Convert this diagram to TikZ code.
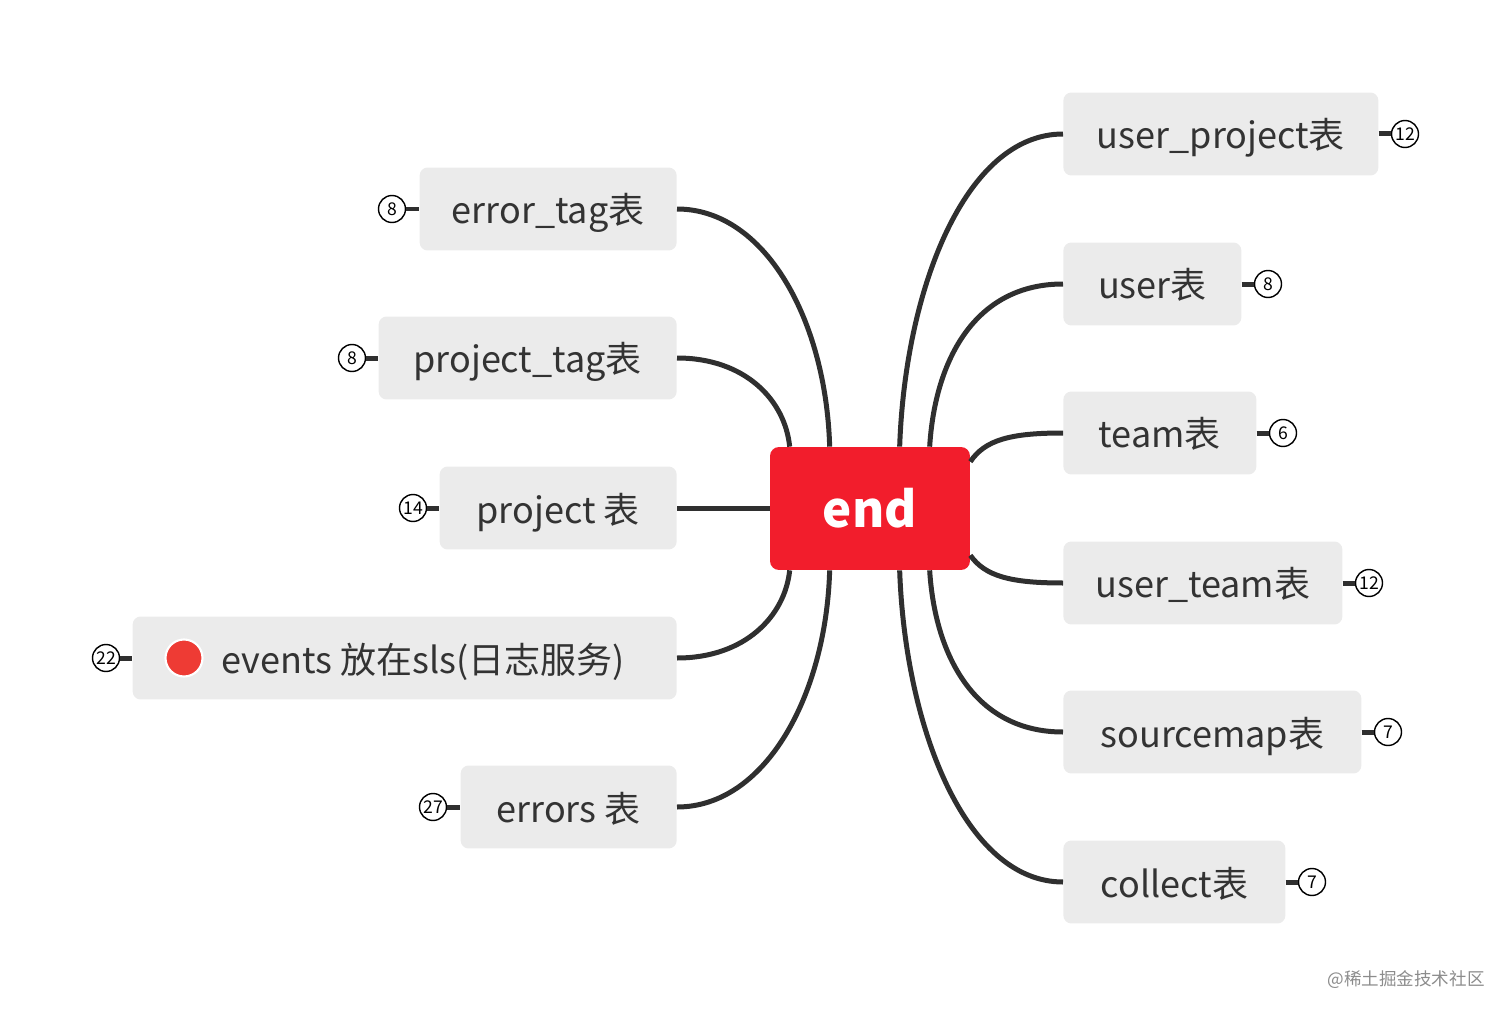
\documentclass[tikz,border=0pt]{standalone}
\usepackage{fontspec}
\setmainfont{Noto Sans CJK SC}
\usetikzlibrary{calc}
\definecolor{nodefill}{HTML}{EBEBEB}
\definecolor{textc}{HTML}{333333}
\definecolor{linec}{HTML}{2F2F2F}
\definecolor{endred}{HTML}{F21D2C}
\definecolor{dotred}{HTML}{EE3B34}
\begin{document}
\begin{tikzpicture}[x=0.02cm,y=-0.02cm,
  topic/.style={fill=nodefill, rounded corners=0.16cm, inner sep=0pt, minimum height=1.66cm,
    text height=0.68cm, text depth=0.08cm,
    text=textc, font=\fontsize{20.5pt}{24pt}\selectfont},
  central/.style={fill=endred, rounded corners=0.18cm, inner sep=0pt, minimum width=4cm, minimum height=2.46cm,
    text=white, font=\fontsize{28pt}{32pt}\selectfont\bfseries},
  conn/.style={draw=linec, line width=0.1cm},
  stub/.style={draw=linec, line width=0.1cm},
  badge/.style={circle, draw=black, line width=0.8pt, fill=white, minimum size=0.54cm, inner sep=0pt,
    text=black, font=\fontsize{10pt}{11pt}\selectfont},
]
\useasboundingbox (0,0) rectangle (1512,1017);

% central node
\node[central] (c) at (870,508.5) {end};

% left topics
\node[topic, minimum width=257*0.02cm, anchor=east] (errtag) at (677,209) {error\_tag表};
\node[topic, minimum width=298*0.02cm, anchor=east] (projtag) at (677,358) {project\_tag表};
\node[topic, minimum width=237*0.02cm, anchor=east] (proj) at (677,508) {project 表};
\node[topic, minimum width=544*0.02cm, anchor=east] (events) at (677,658) {};
\node[topic, minimum width=216*0.02cm, anchor=east] (errors) at (677,807) {errors 表};

\node[circle, fill=dotred, draw=white, line width=1.2pt, minimum size=0.74cm, inner sep=0pt] (dot) at (184,658) {};
\node[anchor=west, inner sep=0pt, text height=0.68cm, text depth=0.08cm, text=textc, font=\fontsize{20.5pt}{24pt}\selectfont] (evtext) at (221,658) {events 放在sls(日志服务)};

% right topics
\node[topic, minimum width=315*0.02cm, anchor=west] (uproj) at (1063,134) {user\_project表};
\node[topic, minimum width=178*0.02cm, anchor=west] (user) at (1063,284) {user表};
\node[topic, minimum width=193*0.02cm, anchor=west] (team) at (1063,433) {team表};
\node[topic, minimum width=279*0.02cm, anchor=west] (uteam) at (1063,583) {user\_team表};
\node[topic, minimum width=298*0.02cm, anchor=west] (smap) at (1063,732) {sourcemap表};
\node[topic, minimum width=222*0.02cm, anchor=west] (collect) at (1063,882) {collect表};

% connectors left
\draw[conn] (errtag.east) .. controls (765,209) and (826,320) .. ($(c.north west)+(60,0)$);
\draw[conn] (projtag.east) .. controls (745,358) and (785,400) .. ($(c.north west)+(20,0)$);
\draw[conn] (proj.east) -- (c.west |- proj.east);
\draw[conn] (events.east) .. controls (745,658) and (785,616) .. ($(c.south west)+(20,0)$);
\draw[conn] (errors.east) .. controls (765,807) and (826,696) .. ($(c.south west)+(60,0)$);

% connectors right
\draw[conn] (uproj.west) .. controls (965,134) and (905,290) .. ($(c.north west)+(130,0)$);
\draw[conn] (user.west) .. controls (975,284) and (935,360) .. ($(c.north west)+(160,0)$);
\draw[conn] (team.west) .. controls (1010,433) and (985,440) .. ($(c.north east)+(0,15)$);
\draw[conn] (uteam.west) .. controls (1010,583) and (985,576) .. ($(c.south east)+(0,-15)$);
\draw[conn] (smap.west) .. controls (975,732) and (935,656) .. ($(c.south west)+(160,0)$);
\draw[conn] (collect.west) .. controls (965,882) and (905,726) .. ($(c.south west)+(130,0)$);

% badges left
\node[badge] (b1) at (392,209) {8};
\node[badge] (b2) at (352,358) {8};
\node[badge] (b3) at (413,508) {14};
\node[badge] (b4) at (106,658) {22};
\node[badge] (b5) at (433,807) {27};
\draw[stub] (b1.east) -- (errtag.west);
\draw[stub] (b2.east) -- (projtag.west);
\draw[stub] (b3.east) -- (proj.west);
\draw[stub] (b4.east) -- (events.west);
\draw[stub] (b5.east) -- (errors.west);

% badges right
\node[badge] (r1) at (1405,134) {12};
\node[badge] (r2) at (1268,284) {8};
\node[badge] (r3) at (1283,433) {6};
\node[badge] (r4) at (1369,583) {12};
\node[badge] (r5) at (1388,732) {7};
\node[badge] (r6) at (1312,882) {7};
\draw[stub] (uproj.east) -- (r1.west);
\draw[stub] (user.east) -- (r2.west);
\draw[stub] (team.east) -- (r3.west);
\draw[stub] (uteam.east) -- (r4.west);
\draw[stub] (smap.east) -- (r5.west);
\draw[stub] (collect.east) -- (r6.west);

% watermark
\node[text=black!45, font=\fontsize{10pt}{12pt}\selectfont, inner sep=0pt] (wm) at (1406,980) {@稀土掘金技术社区};
\end{tikzpicture}
\end{document}
